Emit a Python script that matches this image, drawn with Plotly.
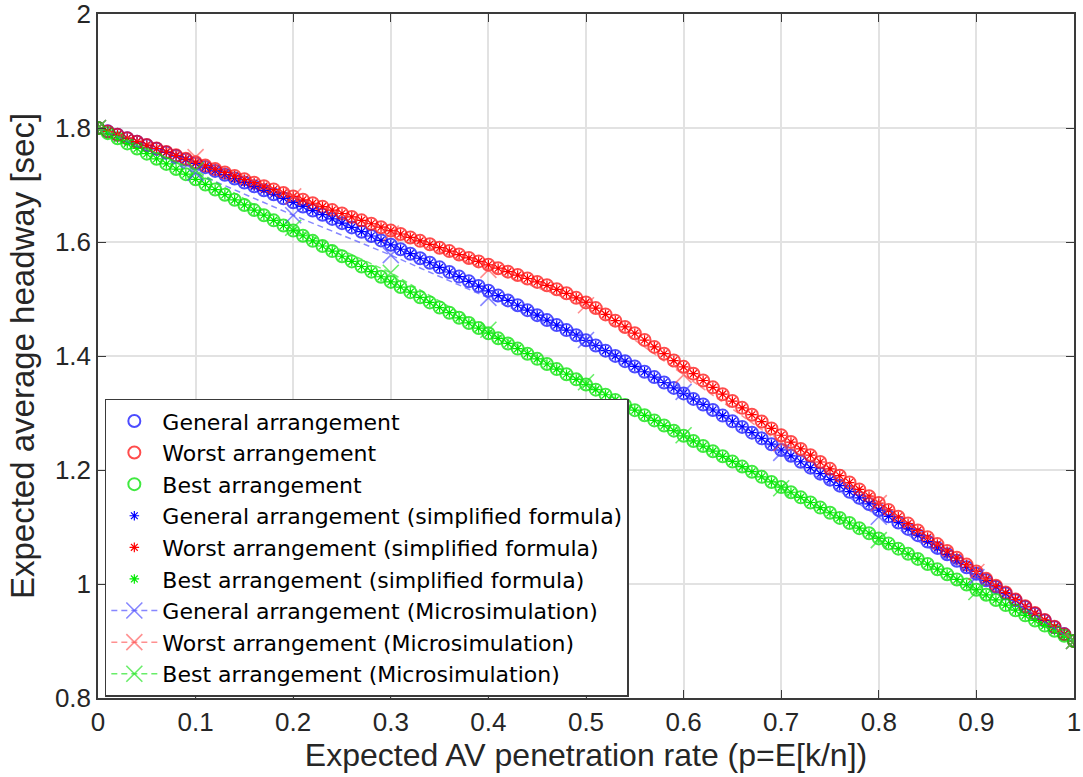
import plotly.graph_objects as go

# ---------------- data ----------------
p_theory = [i / 100 for i in range(101)]

general = [
    1.8000, 1.7941, 1.7881, 1.7820, 1.7759, 1.7697, 1.7635, 1.7572, 1.7508, 1.7444,
    1.7379, 1.7313, 1.7247, 1.7181, 1.7113, 1.7045, 1.6977, 1.6907, 1.6838, 1.6767,
    1.6696, 1.6624, 1.6552, 1.6479, 1.6405, 1.6331, 1.6256, 1.6181, 1.6105, 1.6028,
    1.5951, 1.5873, 1.5795, 1.5715, 1.5636, 1.5555, 1.5474, 1.5393, 1.5310, 1.5227,
    1.5144, 1.5060, 1.4975, 1.4890, 1.4804, 1.4717, 1.4630, 1.4542, 1.4454, 1.4365,
    1.4275, 1.4185, 1.4094, 1.4002, 1.3910, 1.3817, 1.3724, 1.3630, 1.3535, 1.3440,
    1.3344, 1.3247, 1.3150, 1.3053, 1.2954, 1.2855, 1.2756, 1.2655, 1.2555, 1.2453,
    1.2351, 1.2248, 1.2145, 1.2041, 1.1936, 1.1831, 1.1725, 1.1619, 1.1512, 1.1404,
    1.1296, 1.1187, 1.1078, 1.0967, 1.0857, 1.0745, 1.0633, 1.0521, 1.0407, 1.0293,
    1.0179, 1.0064, 0.9948, 0.9832, 0.9715, 0.9597, 0.9479, 0.9360, 0.9241, 0.9121,
    0.9000,
]

worst = [
    1.800, 1.794, 1.788, 1.782, 1.776, 1.770, 1.764, 1.758, 1.752, 1.746,
    1.740, 1.734, 1.728, 1.722, 1.716, 1.710, 1.704, 1.698, 1.692, 1.686,
    1.680, 1.674, 1.668, 1.662, 1.656, 1.650, 1.644, 1.638, 1.632, 1.626,
    1.620, 1.614, 1.608, 1.602, 1.596, 1.590, 1.584, 1.578, 1.572, 1.566,
    1.560, 1.554, 1.548, 1.542, 1.536, 1.530, 1.524, 1.517, 1.510, 1.502,
    1.494, 1.484, 1.473, 1.462, 1.451, 1.440, 1.428, 1.416, 1.404, 1.392,
    1.381, 1.369, 1.357, 1.345, 1.333, 1.321, 1.309, 1.297, 1.285, 1.273,
    1.261, 1.249, 1.237, 1.226, 1.214, 1.202, 1.190, 1.178, 1.166, 1.154,
    1.142, 1.130, 1.118, 1.106, 1.094, 1.082, 1.070, 1.058, 1.046, 1.034,
    1.022, 1.009, 0.997, 0.985, 0.973, 0.961, 0.949, 0.937, 0.925, 0.912,
    0.900,
]

best = [
    1.800, 1.791, 1.782, 1.773, 1.764, 1.755, 1.746, 1.737, 1.728, 1.719,
    1.710, 1.701, 1.692, 1.683, 1.674, 1.665, 1.656, 1.647, 1.638, 1.629,
    1.620, 1.611, 1.602, 1.593, 1.584, 1.575, 1.566, 1.557, 1.548, 1.539,
    1.530, 1.521, 1.512, 1.503, 1.494, 1.485, 1.476, 1.467, 1.458, 1.449,
    1.440, 1.431, 1.422, 1.413, 1.404, 1.395, 1.386, 1.377, 1.368, 1.359,
    1.350, 1.341, 1.332, 1.323, 1.314, 1.305, 1.296, 1.287, 1.278, 1.269,
    1.260, 1.251, 1.242, 1.233, 1.224, 1.215, 1.206, 1.197, 1.188, 1.179,
    1.170, 1.161, 1.152, 1.143, 1.134, 1.125, 1.116, 1.107, 1.098, 1.089,
    1.080, 1.071, 1.062, 1.053, 1.044, 1.035, 1.026, 1.017, 1.008, 0.999,
    0.990, 0.981, 0.972, 0.963, 0.954, 0.945, 0.936, 0.927, 0.918, 0.909,
    0.900,
]

p_sim = [0.0, 0.1, 0.2, 0.3, 0.4, 0.5, 0.6, 0.7, 0.8, 0.9, 1.0]
general_sim = [1.800, 1.721, 1.647, 1.577, 1.502, 1.428, 1.337, 1.230, 1.118, 1.012, 0.900]
worst_sim = [1.800, 1.749, 1.680, 1.615, 1.551, 1.489, 1.367, 1.247, 1.142, 1.021, 0.900]
best_sim = [1.800, 1.726, 1.625, 1.546, 1.446, 1.354, 1.261, 1.168, 1.077, 0.986, 0.900]

x_ticks = [0, 0.1, 0.2, 0.3, 0.4, 0.5, 0.6, 0.7, 0.8, 0.9, 1]
x_tick_text = ["0", "0.1", "0.2", "0.3", "0.4", "0.5", "0.6", "0.7", "0.8", "0.9", "1"]
y_ticks = [0.8, 1.0, 1.2, 1.4, 1.6, 1.8, 2.0]
y_tick_text = ["0.8", "1", "1.2", "1.4", "1.6", "1.8", "2"]

names_circle = ["General arrangement", "Worst arrangement", "Best arrangement"]
names_star = ["General arrangement (simplified formula)",
              "Worst arrangement (simplified formula)",
              "Best arrangement (simplified formula)"]
names_sim = ["General arrangement (Microsimulation)",
             "Worst arrangement (Microsimulation)",
             "Best arrangement (Microsimulation)"]

# ---------------- styles ----------------
FONT = "Liberation Sans, Arial, sans-serif"
LEGEND_FONT = "DejaVu Sans, Liberation Sans, sans-serif"
solid = ["rgb(0,0,255)", "rgb(255,0,0)", "rgb(0,235,0)"]
circ = ["rgba(0,0,255,0.7)", "rgba(255,0,0,0.7)", "rgba(0,225,0,0.75)"]
light = ["rgba(70,70,255,0.65)", "rgba(255,70,70,0.6)", "rgba(40,230,40,0.7)"]

series = [general, worst, best]
sims = [general_sim, worst_sim, best_sim]

fig = go.Figure()

for k in range(3):
    fig.add_trace(go.Scatter(
        x=p_theory, y=series[k], mode="markers", name=names_circle[k],
        marker=dict(symbol="circle-open", size=12, color=circ[k],
                    line=dict(width=2, color=circ[k])),
    ))
for k in range(3):
    fig.add_trace(go.Scatter(
        x=p_theory, y=series[k], mode="markers", name=names_star[k],
        marker=dict(symbol="asterisk-open", size=8, color=solid[k],
                    line=dict(width=1.2, color=solid[k])),
    ))
for k in range(3):
    fig.add_trace(go.Scatter(
        x=p_sim, y=sims[k], mode="lines+markers", name=names_sim[k],
        line=dict(color=light[k], width=1.5, dash="6px,4px"),
        marker=dict(symbol="x-thin-open", size=16, color=light[k],
                    line=dict(width=1.6, color=light[k])),
    ))

axis_common = dict(
    showline=True, linecolor="#3a3a3a", linewidth=1.5, mirror="ticks",
    ticks="inside", ticklen=8, tickcolor="#3a3a3a", tickwidth=1.2,
    showgrid=True, gridcolor="rgb(226,226,226)", gridwidth=2,
    zeroline=False, ticklabeloverflow="allow", automargin=False,
    tickfont=dict(family=FONT, size=26, color="#262626"),
)

fig.update_xaxes(
    range=[0, 1], tickmode="array", tickvals=x_ticks, ticktext=x_tick_text,
    title=dict(text="Expected AV penetration rate (p=E[k/n])",
               font=dict(family=FONT, size=32, color="#262626"), standoff=6),
    **axis_common,
)
fig.update_yaxes(
    range=[0.8, 2.0], tickmode="array", tickvals=y_ticks, ticktext=y_tick_text,
    title=dict(text="Expected average headway [sec]",
               font=dict(family=FONT, size=33, color="#262626"), standoff=10),
    **axis_common,
)

fig.update_layout(
    width=1083, height=777,
    margin=dict(l=98, r=9, t=14, b=79),
    paper_bgcolor="white", plot_bgcolor="white",
    showlegend=True,
    legend=dict(
        x=0.007, y=0.002, xanchor="left", yanchor="bottom",
        bgcolor="white", bordercolor="#3a3a3a", borderwidth=1.5,
        font=dict(family=LEGEND_FONT, size=22, color="black"),
        traceorder="normal", itemwidth=46,
    ),
)

fig.write_html("out.html")
